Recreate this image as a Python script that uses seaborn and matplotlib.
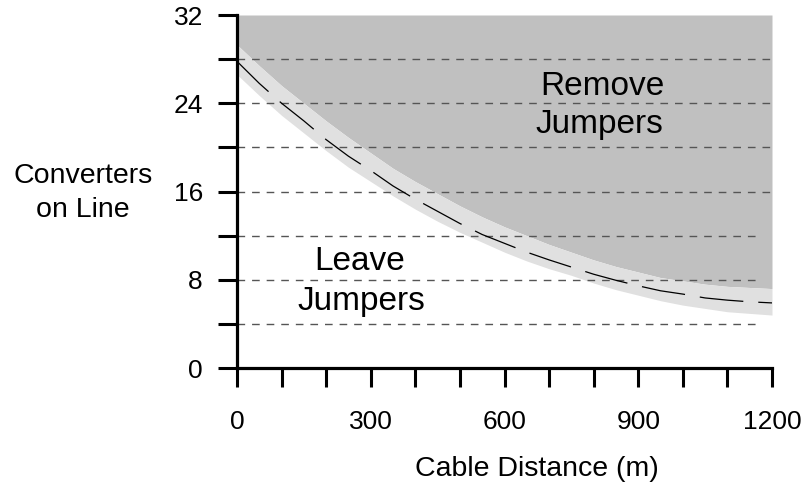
import matplotlib
matplotlib.use("Agg")
import matplotlib.pyplot as plt
import numpy as np
import pandas as pd
import seaborn as sns

# ---- data ----
distance_m = [0, 50, 100, 150, 200, 250, 300, 350, 400, 450, 500, 550, 600,
              650, 700, 750, 800, 850, 900, 950, 1000, 1050, 1100, 1150, 1200]
converters_limit = [27.8, 25.8, 24.0, 22.4, 20.7, 19.2, 17.9, 16.5, 15.3, 14.2,
                    13.1, 12.1, 11.3, 10.5, 9.8, 9.15, 8.5, 7.95, 7.45, 7.0,
                    6.7, 6.35, 6.15, 6.0, 5.9]
band_upper = [29.3, 27.4, 25.6, 24.0, 22.4, 20.9, 19.5, 18.1, 16.9, 15.8, 14.7,
              13.7, 12.8, 12.0, 11.2, 10.5, 9.8, 9.2, 8.7, 8.2, 7.9, 7.6, 7.4,
              7.3, 7.2]
band_lower = [26.6, 24.7, 22.9, 21.3, 19.7, 18.2, 16.9, 15.6, 14.4, 13.3, 12.3,
              11.4, 10.5, 9.7, 9.0, 8.4, 7.7, 7.1, 6.6, 6.1, 5.7, 5.4, 5.1,
              4.95, 4.8]
grid_levels = [4, 8, 12, 16, 20, 24, 28]
grid_ends = [1165, 1165, 1165, 1195, 1195, 1195, 1195]
x_ticks = list(range(0, 1201, 100))
x_tick_labels = ["0", "", "", "300", "", "", "600", "", "", "900", "", "", "1200"]
y_ticks = [0, 4, 8, 12, 16, 20, 24, 28, 32]
y_tick_labels = ["0", "", "8", "", "16", "", "24", "", "32"]
y_max = 32

sns.set_style("white", {"xtick.bottom": True, "ytick.left": True})
plt.rcParams['font.family'] = ['Liberation Sans', 'DejaVu Sans']
plt.rcParams['text.color'] = 'black'
plt.rcParams['xtick.color'] = 'black'
plt.rcParams['ytick.color'] = 'black'

W, H = 809, 484
fig = plt.figure(figsize=(W / 100, H / 100), dpi=100)
ax = fig.add_axes([237 / W, 1 - 368 / H, 535 / W, 353 / H])

df = pd.DataFrame({"distance": distance_m, "converters": converters_limit})

ax.fill_between(distance_m, band_upper, y_max, color="#C0C0C0", lw=0, zorder=1)
ax.fill_between(distance_m, band_lower, band_upper, color="#E0E0E0", lw=0, zorder=1)

for lvl, end in zip(grid_levels, grid_ends):
    ax.plot([0, end], [lvl, lvl], color="#555555", lw=1.0,
            linestyle=(0, (5.5, 5)), zorder=2)

sns.lineplot(data=df, x="distance", y="converters", ax=ax, color="black",
             lw=0.9, linestyle=(0, (35, 12)), zorder=3)

ax.set_xlim(0, 1200)
ax.set_ylim(0, y_max)
ax.set_xlabel("")
ax.set_ylabel("")
ax.set_xticks(x_ticks)
ax.set_xticklabels(x_tick_labels)
ax.set_yticks(y_ticks)
ax.set_yticklabels(y_tick_labels)

for s in ["top", "right"]:
    ax.spines[s].set_visible(False)
for s in ["left", "bottom"]:
    ax.spines[s].set_color("black")
    ax.spines[s].set_linewidth(2.3)
    ax.spines[s].set_zorder(5)

ax.tick_params(axis="both", which="major", bottom=True, left=True,
               direction="out", length=13.5, width=2.2,
               color="black", labelsize=19, labelcolor="black")
ax.tick_params(axis="x", pad=17)
ax.tick_params(axis="y", pad=11)

# region labels
ax.text(819, 24.75, "Remove", fontsize=24, ha="center", va="baseline", zorder=4)
ax.text(812, 21.3, "Jumpers", fontsize=24, ha="center", va="baseline", zorder=4)
ax.text(275, 8.9, "Leave", fontsize=24, ha="center", va="baseline", zorder=4)
ax.text(278, 5.26, "Jumpers", fontsize=24, ha="center", va="baseline", zorder=4)

# axis titles
fig.text(83 / W, 1 - 183 / H, "Converters", fontsize=20.5, ha="center", va="baseline")
fig.text(83 / W, 1 - 217 / H, "on Line", fontsize=20.5, ha="center", va="baseline")
fig.text(537 / W, 1 - 476 / H, "Cable Distance (m)", fontsize=20.5,
         ha="center", va="baseline")

fig.savefig("out.png", dpi=100)
